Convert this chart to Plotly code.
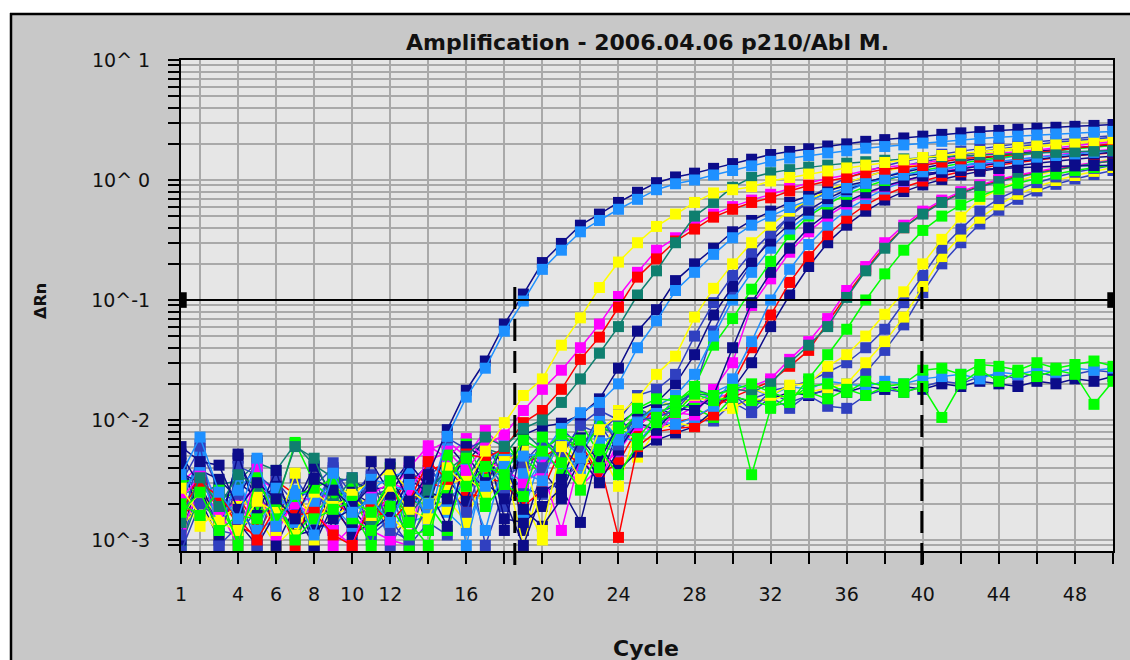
import plotly.graph_objects as go

# ---------------------------------------------------------------
# Real-time PCR amplification plot: ΔRn per cycle for every well
# ---------------------------------------------------------------
cycles = list(range(1, 51))

NAVY = "#0c0c8a"
ROYAL = "#3040c0"
DODGER = "#1e90ff"
YELLOW = "#ffff00"
TEAL = "#0f7f6f"
RED = "#ff0000"
GREEN = "#00ff00"
MAGENTA = "#ff00ff"

# flat (non-amplified) wells
flat_green_a = [0.0020, 0.0016, 0.0026, 0.0009, 0.0033, 0.0015, 0.0023, 0.0027, 0.0032, 0.0015,
                0.0012, 0.0019, 0.0011, 0.0012, 0.0034, 0.0048, 0.0019, 0.0029, 0.0023, 0.0072,
                0.0044, 0.0026, 0.0057, 0.0035, 0.0062, 0.0095, 0.0115, 0.0165, 0.0145, 0.0155,
                0.0035, 0.0125, 0.016, 0.017, 0.015, 0.018, 0.016, 0.019, 0.017, 0.019,
                0.0105, 0.02, 0.026, 0.021, 0.025, 0.023, 0.026, 0.024, 0.0135, 0.021]
flat_green_b = [0.0017, 0.0025, 0.0012, 0.0016, 0.0015, 0.0021, 0.0010, 0.0015, 0.0018, 0.0021,
                0.0017, 0.0031, 0.0014, 0.0009, 0.0051, 0.0028, 0.0041, 0.0035, 0.0068, 0.0055,
                0.0076, 0.0068, 0.0040, 0.0087, 0.0125, 0.015, 0.0145, 0.0175, 0.016, 0.018,
                0.02, 0.017, 0.015, 0.019, 0.02, 0.017, 0.021, 0.019, 0.02, 0.026,
                0.027, 0.024, 0.029, 0.028, 0.026, 0.03, 0.027, 0.029, 0.031, 0.028]
flat_royal = [0.0030, 0.0058, 0.0026, 0.0020, 0.0028, 0.0012, 0.0033, 0.0019, 0.0038, 0.0024,
              0.0035, 0.0017, 0.0030, 0.0042, 0.0025, 0.0065, 0.0052, 0.0030, 0.0058, 0.0034,
              0.0085, 0.0060, 0.0092, 0.0055, 0.0105, 0.0115, 0.013, 0.018, 0.016, 0.013,
              0.015, 0.017, 0.014, 0.016, 0.013, 0.0125, 0.016, 0.018, 0.017, 0.019,
              0.021, 0.02, 0.023, 0.024, 0.022, 0.025, 0.023, 0.024, 0.026, 0.025]
flat_navy = [0.0041, 0.0022, 0.0010, 0.0030, 0.0023, 0.0014, 0.0020, 0.0033, 0.0012, 0.0031,
             0.0026, 0.0028, 0.0045, 0.0018, 0.0063, 0.0041, 0.0026, 0.0072, 0.0012, 0.0038,
             0.0024, 0.0062, 0.0031, 0.0082, 0.0105, 0.0125, 0.011, 0.015, 0.013, 0.016,
             0.014, 0.015, 0.017, 0.016, 0.018, 0.017, 0.019, 0.018, 0.019, 0.018,
             0.02, 0.019, 0.021, 0.02, 0.019, 0.021, 0.02, 0.022, 0.021, 0.023]
flat_dodger = [0.0026, 0.0033, 0.0018, 0.0012, 0.0021, 0.0024, 0.0017, 0.0026, 0.0027, 0.0020,
               0.0021, 0.0010, 0.0024, 0.0028, 0.0017, 0.0012, 0.0036, 0.0040, 0.0026, 0.0048,
               0.0060, 0.0036, 0.0078, 0.0052, 0.0125, 0.0095, 0.016, 0.014, 0.017, 0.02,
               0.018, 0.016, 0.019, 0.018, 0.021, 0.02, 0.019, 0.021, 0.02, 0.022,
               0.023, 0.024, 0.022, 0.025, 0.024, 0.026, 0.025, 0.027, 0.026, 0.027]

# late wells (Ct about 38-40)
late_yellow_a = [0.0022, 0.0013, 0.0018, 0.0015, 0.0013, 0.0026, 0.0016, 0.0014, 0.0022, 0.0026,
                 0.0029, 0.0016, 0.0011, 0.0017, 0.0022, 0.0014, 0.0040, 0.0044, 0.0009, 0.0034,
                 0.0070, 0.0042, 0.0058, 0.0028, 0.0090, 0.0145, 0.013, 0.0155, 0.014, 0.0175,
                 0.0185, 0.016, 0.0195, 0.02, 0.028, 0.035, 0.05, 0.076, 0.117, 0.2,
                 0.32, 0.49, 0.69, 0.84, 0.98, 1.1, 1.2, 1.3, 1.4, 1.5]
late_royal_a = [0.0019, 0.0052, 0.0009, 0.0013, 0.0022, 0.0018, 0.0021, 0.0028, 0.0040, 0.0017,
                0.0023, 0.0027, 0.0009, 0.0014, 0.0011, 0.0061, 0.0009, 0.0026, 0.0031, 0.0070,
                0.0052, 0.0090, 0.0077, 0.0110, 0.0065, 0.0095, 0.011, 0.0145, 0.0135, 0.0165,
                0.012, 0.0175, 0.019, 0.021, 0.025, 0.03, 0.04, 0.057, 0.095, 0.16,
                0.27, 0.39, 0.55, 0.7, 0.83, 0.95, 1.06, 1.16, 1.25, 1.33]
late_yellow_b = [0.0013, 0.0019, 0.0011, 0.0024, 0.0016, 0.0009, 0.0013, 0.0018, 0.0016, 0.0019,
                 0.0023, 0.0012, 0.0014, 0.0022, 0.0018, 0.0025, 0.0021, 0.0036, 0.0022, 0.0010,
                 0.0038, 0.0058, 0.0042, 0.0120, 0.0049, 0.0082, 0.0095, 0.0088, 0.0115, 0.0125,
                 0.015, 0.0145, 0.0165, 0.017, 0.0185, 0.02, 0.03, 0.045, 0.072, 0.13,
                 0.23, 0.34, 0.48, 0.62, 0.76, 0.88, 0.99, 1.09, 1.18, 1.27]
late_royal_b = [0.0009, 0.0030, 0.0012, 0.0011, 0.0018, 0.0020, 0.0012, 0.0017, 0.0031, 0.0019,
                0.0030, 0.0009, 0.0017, 0.0033, 0.0048, 0.0027, 0.0053, 0.0019, 0.0027, 0.0024,
                0.0031, 0.0044, 0.0060, 0.0055, 0.0125, 0.0105, 0.0082, 0.010, 0.0098, 0.0140,
                0.0115, 0.0155, 0.0125, 0.0165, 0.0175, 0.0185, 0.025, 0.038, 0.062, 0.115,
                0.2, 0.3, 0.43, 0.56, 0.69, 0.81, 0.92, 1.02, 1.11, 1.2]

# wells with Ct about 35-37
mid_teal = [0.0009, 0.0024, 0.0029, 0.0031, 0.0044, 0.0038, 0.0063, 0.0042, 0.0033, 0.0031,
            0.0025, 0.0023, 0.0022, 0.0025, 0.0040, 0.0032, 0.0058, 0.0051, 0.0080, 0.0057,
            0.0072, 0.0060, 0.0085, 0.0078, 0.0100, 0.0130, 0.014, 0.0165, 0.016, 0.0185,
            0.017, 0.02, 0.03, 0.042, 0.06, 0.105, 0.175, 0.27, 0.40, 0.52,
            0.65, 0.77, 0.88, 0.97, 1.06, 1.14, 1.22, 1.3, 1.38, 1.45]
mid_magenta = [0.0030, 0.0042, 0.0020, 0.0016, 0.0033, 0.0026, 0.0014, 0.0022, 0.0009, 0.0013,
               0.0012, 0.0010, 0.0009, 0.0055, 0.0067, 0.0049, 0.0082, 0.0057, 0.0036, 0.0043,
               0.0045, 0.0028, 0.0040, 0.0055, 0.0090, 0.0115, 0.0105, 0.013, 0.015, 0.017,
               0.019, 0.022, 0.032, 0.045, 0.07, 0.12, 0.19, 0.3, 0.42, 0.55,
               0.68, 0.8, 0.91, 1.01, 1.1, 1.18, 1.26, 1.33, 1.4, 1.47]
mid_red = [0.0015, 0.0040, 0.0016, 0.0023, 0.0013, 0.0031, 0.0024, 0.0015, 0.0021, 0.0016,
           0.0018, 0.0022, 0.0017, 0.0038, 0.0043, 0.0024, 0.0023, 0.0050, 0.0045, 0.0049,
           0.0060, 0.0064, 0.0035, 0.0044, 0.0085, 0.0130, 0.0095, 0.0105, 0.0128, 0.0155,
           0.018, 0.021, 0.028, 0.038, 0.065, 0.11, 0.18, 0.28, 0.40, 0.53,
           0.66, 0.78, 0.89, 0.99, 1.08, 1.16, 1.24, 1.31, 1.38, 1.45]
mid_green = [0.0024, 0.0027, 0.0022, 0.0025, 0.0017, 0.0019, 0.0065, 0.0030, 0.0021, 0.0028,
             0.0010, 0.0025, 0.0021, 0.0020, 0.0012, 0.0042, 0.0023, 0.0055, 0.0048, 0.0035,
             0.0080, 0.0052, 0.0090, 0.0074, 0.0115, 0.009, 0.0135, 0.0125, 0.0105, 0.0155,
             0.0145, 0.013, 0.014, 0.022, 0.035, 0.057, 0.1, 0.165, 0.26, 0.38,
             0.5, 0.62, 0.73, 0.84, 0.94, 1.03, 1.12, 1.2, 1.27, 1.34]

# wells with Ct about 28-33
g3_yellow = [0.0016, 0.0025, 0.0015, 0.0019, 0.0024, 0.0012, 0.0036, 0.0010, 0.0028, 0.0024,
             0.0031, 0.0038, 0.0026, 0.0020, 0.0029, 0.0033, 0.0025, 0.0045, 0.0055, 0.0012,
             0.0060, 0.0032, 0.0083, 0.011, 0.015, 0.024, 0.034, 0.072, 0.125, 0.20,
             0.30, 0.42, 0.55, 0.68, 0.82, 0.95, 1.07, 1.18, 1.28, 1.38,
             1.47, 1.56, 1.65, 1.73, 1.81, 1.88, 1.95, 2.02, 2.08, 2.14]
g3_royal_a = [0.0011, 0.0062, 0.0009, 0.0041, 0.0035, 0.0026, 0.0018, 0.0014, 0.0044, 0.0017,
              0.0034, 0.0012, 0.0010, 0.0019, 0.0071, 0.0057, 0.0068, 0.0032, 0.0044, 0.0065,
              0.0050, 0.0092, 0.012, 0.010, 0.016, 0.018, 0.024, 0.05, 0.095, 0.16,
              0.25, 0.36, 0.50, 0.66, 0.80, 0.94, 1.07, 1.19, 1.31, 1.42,
              1.52, 1.62, 1.72, 1.81, 1.9, 1.98, 2.06, 2.13, 2.2, 2.27]
g3_navy_a = [0.0036, 0.0030, 0.0013, 0.0048, 0.0021, 0.0028, 0.0017, 0.0009, 0.0029, 0.0014,
             0.0045, 0.0024, 0.0044, 0.0027, 0.0013, 0.0052, 0.0030, 0.0022, 0.0009, 0.0025,
             0.0032, 0.0071, 0.0045, 0.0093, 0.012, 0.014, 0.02, 0.035, 0.075, 0.13,
             0.21, 0.31, 0.43, 0.56, 0.70, 0.83, 0.95, 1.06, 1.16, 1.26,
             1.35, 1.44, 1.52, 1.6, 1.67, 1.74, 1.8, 1.86, 1.92, 1.98]
g3_dodger_a = [0.0021, 0.0049, 0.0017, 0.0026, 0.0040, 0.0018, 0.0026, 0.0023, 0.0019, 0.0013,
               0.0026, 0.0034, 0.0037, 0.0013, 0.0060, 0.0009, 0.0042, 0.0062, 0.0036, 0.0031,
               0.0075, 0.0048, 0.011, 0.0068, 0.0095, 0.013, 0.016, 0.024, 0.05, 0.1,
               0.17, 0.27, 0.39, 0.52, 0.66, 0.80, 0.94, 1.07, 1.19, 1.31,
               1.42, 1.53, 1.63, 1.73, 1.82, 1.91, 2.0, 2.08, 2.16, 2.24]
g3_green = [0.0030, 0.0033, 0.0020, 0.0010, 0.0027, 0.0021, 0.0011, 0.0017, 0.0023, 0.0018,
            0.0009, 0.0040, 0.0009, 0.0022, 0.0025, 0.0063, 0.0032, 0.0068, 0.0040, 0.0060,
            0.0035, 0.0095, 0.0052, 0.0085, 0.0070, 0.011, 0.014, 0.019, 0.042, 0.07,
            0.123, 0.21, 0.35, 0.50, 0.63, 0.76, 0.88, 0.99, 1.1, 1.2,
            1.29, 1.38, 1.46, 1.54, 1.62, 1.69, 1.76, 1.82, 1.88, 1.94]
g3_royal_b = [0.0008, 0.0020, 0.0015, 0.0024, 0.0009, 0.0031, 0.0020, 0.0013, 0.0030, 0.0033,
              0.0011, 0.0015, 0.0009, 0.0038, 0.0028, 0.0017, 0.0050, 0.0026, 0.0058, 0.0040,
              0.0068, 0.0055, 0.0110, 0.0062, 0.010, 0.0105, 0.012, 0.018, 0.055, 0.115,
              0.2, 0.33, 0.5, 0.7, 0.88, 1.04, 1.18, 1.31, 1.43, 1.54,
              1.64, 1.74, 1.83, 1.92, 2.0, 2.08, 2.15, 2.22, 2.28, 2.34]
g3_navy_b = [0.0044, 0.0016, 0.0026, 0.0014, 0.0009, 0.0017, 0.0024, 0.0009, 0.0020, 0.0011,
             0.0014, 0.0033, 0.0018, 0.0030, 0.0032, 0.0021, 0.0058, 0.0044, 0.0018, 0.0013,
             0.0022, 0.0048, 0.0030, 0.0056, 0.0095, 0.0082, 0.0125, 0.012, 0.016, 0.04,
             0.095, 0.17, 0.27, 0.40, 0.53, 0.66, 0.78, 0.89, 0.99, 1.08,
             1.16, 1.24, 1.31, 1.38, 1.44, 1.5, 1.55, 1.6, 1.65, 1.7]
g3_magenta = [0.0012, 0.0026, 0.0017, 0.0021, 0.0027, 0.0011, 0.0023, 0.0021, 0.0025, 0.0015,
              0.0013, 0.0025, 0.0040, 0.0061, 0.0048, 0.0070, 0.0046, 0.0039, 0.0030, 0.0038,
              0.0012, 0.0050, 0.0030, 0.0068, 0.0092, 0.0078, 0.0115, 0.011, 0.018, 0.03,
              0.09, 0.15, 0.25, 0.37, 0.50, 0.63, 0.76, 0.88, 0.98, 1.08,
              1.17, 1.26, 1.34, 1.42, 1.49, 1.56, 1.62, 1.68, 1.74, 1.8]
g3_dodger_b = [0.0029, 0.0020, 0.0023, 0.0017, 0.0012, 0.0015, 0.0019, 0.0014, 0.0012, 0.0022,
               0.0019, 0.0024, 0.0014, 0.0016, 0.0021, 0.0031, 0.0012, 0.0047, 0.0017, 0.0054,
               0.0038, 0.0042, 0.0065, 0.0076, 0.0064, 0.0098, 0.0092, 0.0105, 0.013, 0.022,
               0.045, 0.1, 0.18, 0.29, 0.42, 0.56, 0.7, 0.84, 0.97, 1.09,
               1.2, 1.31, 1.41, 1.5, 1.59, 1.67, 1.75, 1.82, 1.89, 1.96]
g3_navy_c = [0.0010, 0.0038, 0.0032, 0.0022, 0.0046, 0.0009, 0.0019, 0.0041, 0.0024, 0.0025,
             0.0020, 0.0019, 0.0038, 0.0012, 0.0036, 0.0044, 0.0068, 0.0015, 0.0014, 0.0019,
             0.0027, 0.0014, 0.0060, 0.0038, 0.0054, 0.0068, 0.0078, 0.0088, 0.012, 0.018,
             0.03, 0.06, 0.11, 0.19, 0.3, 0.42, 0.55, 0.68, 0.8, 0.91,
             1.01, 1.1, 1.18, 1.25, 1.32, 1.38, 1.44, 1.49, 1.54, 1.58]
g3_red = [0.0016, 0.0021, 0.0024, 0.0013, 0.0011, 0.0022, 0.0009, 0.0026, 0.0018, 0.0012,
          0.0015, 0.0018, 0.0035, 0.0030, 0.0027, 0.0018, 0.0033, 0.0030, 0.0019, 0.0026,
          0.0058, 0.0042, 0.0045, 0.00105, 0.0060, 0.0080, 0.0085, 0.0088, 0.011, 0.02,
          0.04, 0.075, 0.14, 0.23, 0.35, 0.48, 0.62, 0.75, 0.87, 0.98,
          1.08, 1.17, 1.25, 1.33, 1.4, 1.47, 1.53, 1.59, 1.64, 1.69]

# wells with Ct about 22-27
g2_magenta = [0.0022, 0.0034, 0.0018, 0.0009, 0.0040, 0.0013, 0.0020, 0.0016, 0.0012, 0.0009,
              0.0024, 0.0030, 0.0026, 0.0045, 0.0055, 0.0038, 0.0062, 0.0075, 0.012, 0.018,
              0.026, 0.040, 0.063, 0.107, 0.17, 0.26, 0.33, 0.42, 0.52, 0.60,
              0.68, 0.76, 0.86, 0.95, 1.03, 1.1, 1.2, 1.28, 1.33, 1.38,
              1.47, 1.56, 1.62, 1.66, 1.72, 1.78, 1.84, 1.93, 2.01, 2.08]
g2_red = [0.0018, 0.0030, 0.0023, 0.0015, 0.0010, 0.0019, 0.0016, 0.0017, 0.0011, 0.0009,
          0.0020, 0.0014, 0.0021, 0.0045, 0.0032, 0.0052, 0.0048, 0.0058, 0.0095, 0.012,
          0.018, 0.032, 0.049, 0.087, 0.155, 0.22, 0.31, 0.39, 0.49, 0.57,
          0.65, 0.71, 0.81, 0.90, 0.98, 1.05, 1.15, 1.23, 1.27, 1.32,
          1.41, 1.50, 1.55, 1.58, 1.64, 1.70, 1.75, 1.85, 1.93, 2.0]
g2_teal = [0.0014, 0.0033, 0.0019, 0.0035, 0.0028, 0.0021, 0.0060, 0.0048, 0.0020, 0.0033,
           0.0013, 0.0031, 0.0016, 0.0026, 0.0038, 0.0050, 0.0072, 0.0060, 0.0085, 0.010,
           0.014, 0.022, 0.036, 0.060, 0.11, 0.175, 0.30, 0.50, 0.65, 0.87,
           1.05, 1.15, 1.22, 1.28, 1.33, 1.38, 1.42, 1.46, 1.5, 1.53,
           1.56, 1.59, 1.62, 1.64, 1.66, 1.68, 1.7, 1.72, 1.74, 1.76]
g2_yellow = [0.0027, 0.0016, 0.0014, 0.0012, 0.0021, 0.0017, 0.0011, 0.0025, 0.0019, 0.0023,
             0.0016, 0.0028, 0.0018, 0.0015, 0.0040, 0.0028, 0.0055, 0.0095, 0.016, 0.022,
             0.042, 0.071, 0.127, 0.207, 0.30, 0.41, 0.52, 0.65, 0.78, 0.83,
             0.88, 0.98, 1.05, 1.12, 1.19, 1.26, 1.33, 1.4, 1.47, 1.54,
             1.6, 1.67, 1.73, 1.8, 1.87, 1.94, 2.0, 2.07, 2.13, 2.2]
g2_navy = [0.0052, 0.0028, 0.0011, 0.0052, 0.0016, 0.0038, 0.0011, 0.0012, 0.0015, 0.0018,
           0.0012, 0.0016, 0.0032, 0.0025, 0.0022, 0.0060, 0.0048, 0.0012, 0.0075, 0.0088,
           0.0094, 0.011, 0.015, 0.027, 0.055, 0.083, 0.145, 0.20, 0.27, 0.37,
           0.46, 0.55, 0.65, 0.74, 0.82, 0.90, 0.97, 1.03, 1.08, 1.13,
           1.17, 1.2, 1.23, 1.25, 1.27, 1.29, 1.3, 1.31, 1.32, 1.33]
g2_dodger = [0.0024, 0.0040, 0.0012, 0.0034, 0.0012, 0.0027, 0.0014, 0.0020, 0.0031, 0.0021,
             0.0032, 0.0029, 0.0025, 0.0016, 0.0034, 0.0039, 0.0028, 0.0041, 0.0050, 0.0052,
             0.0085, 0.0115, 0.014, 0.020, 0.040, 0.067, 0.12, 0.17, 0.24, 0.33,
             0.42, 0.50, 0.59, 0.68, 0.77, 0.86, 0.94, 1.02, 1.1, 1.17,
             1.24, 1.31, 1.37, 1.43, 1.49, 1.55, 1.6, 1.65, 1.7, 1.75]

# earliest pair (Ct about 18.5)
g1_navy = [0.0060, 0.0045, 0.0042, 0.0018, 0.0030, 0.0022, 0.0015, 0.0032, 0.0026, 0.0019,
           0.0028, 0.0043, 0.0021, 0.0035, 0.0083, 0.0177, 0.031, 0.063, 0.112, 0.205,
           0.296, 0.42, 0.52, 0.65, 0.79, 0.95, 1.06, 1.14, 1.25, 1.37,
           1.49, 1.63, 1.73, 1.82, 1.92, 2.0, 2.1, 2.17, 2.24, 2.32,
           2.4, 2.47, 2.53, 2.59, 2.65, 2.7, 2.75, 2.8, 2.85, 2.9]
g1_dodger = [0.0035, 0.0072, 0.0025, 0.0015, 0.0048, 0.0013, 0.0024, 0.0011, 0.0036, 0.0017,
             0.0022, 0.0014, 0.0029, 0.0020, 0.0073, 0.0155, 0.027, 0.055, 0.098, 0.18,
             0.26, 0.37, 0.46, 0.57, 0.69, 0.83, 0.93, 1.0, 1.1, 1.2,
             1.31, 1.43, 1.52, 1.6, 1.68, 1.75, 1.84, 1.9, 1.96, 2.03,
             2.1, 2.16, 2.22, 2.27, 2.32, 2.37, 2.42, 2.46, 2.5, 2.54]

# drawing order: first listed ends up underneath
wells = [
    (flat_royal, ROYAL), (flat_navy, NAVY), (flat_dodger, DODGER),
    (late_royal_b, ROYAL), (late_yellow_b, YELLOW), (late_royal_a, ROYAL), (late_yellow_a, YELLOW),
    (mid_red, RED), (mid_magenta, MAGENTA), (mid_teal, TEAL), (mid_green, GREEN),
    (g3_navy_c, NAVY), (g3_red, RED), (g3_dodger_b, DODGER), (g3_magenta, MAGENTA),
    (g3_navy_b, NAVY), (g3_royal_b, ROYAL), (g3_green, GREEN), (g3_dodger_a, DODGER),
    (g3_navy_a, NAVY), (g3_royal_a, ROYAL), (g3_yellow, YELLOW),
    (g2_navy, NAVY), (g2_dodger, DODGER), (g2_magenta, MAGENTA), (g2_red, RED),
    (g2_teal, TEAL), (g2_yellow, YELLOW),
    (flat_green_b, GREEN), (flat_green_a, GREEN),
    (g1_navy, NAVY), (g1_dodger, DODGER),
]

# axis ticks
x_tickvals = [1] + list(range(2, 51, 2))
x_labels = {1: "1", 4: "4", 6: "6", 8: "8", 10: "10", 12: "12", 16: "16", 20: "20",
            24: "24", 28: "28", 32: "32", 36: "36", 40: "40", 44: "44", 48: "48"}
x_ticktext = [x_labels.get(v, "") for v in x_tickvals]
y_tickvals = [0.001, 0.01, 0.1, 1, 10]
y_ticktext = ["10^-3", "10^-2", "10^-1", "10^ 0", "10^ 1"]
y_minor = [m * d for d in (0.0001, 0.001, 0.01, 0.1, 1) for m in range(2, 10)]
threshold = 0.1
ct_markers = [18.55, 39.95]

fig = go.Figure()
for vals, col in wells:
    fig.add_trace(go.Scatter(
        x=cycles, y=vals, mode="lines+markers",
        line=dict(color=col, width=1.5),
        marker=dict(symbol="square", size=11, color=col, line=dict(width=0)),
        showlegend=False, hoverinfo="x+y",
    ))

W, H = 1130, 660
L, R, T, B = 181, 17, 60, 109
PW, PH = W - L - R, H - T - B


def px_x(p):
    return (p - L) / PW


def px_y(p):
    return (H - B - p) / PH


GRID = "#a9a9a9"
tick_font = dict(family="DejaVu Sans", size=19, color="#111111")

fig.update_xaxes(
    range=[1, 50], tickmode="array", tickvals=x_tickvals, ticktext=x_ticktext,
    ticks="outside", ticklen=11, tickwidth=2, tickcolor="black",
    showgrid=True, gridcolor=GRID, gridwidth=2, zeroline=False,
    showline=True, linecolor="black", linewidth=2, mirror=True,
    tickfont=tick_font, ticklabelstandoff=14,
)
fig.update_yaxes(
    type="log", range=[-3.092, 1.0], tickmode="array",
    tickvals=y_tickvals, ticktext=y_ticktext,
    ticks="outside", ticklen=11, tickwidth=2, tickcolor="black",
    showgrid=True, gridcolor=GRID, gridwidth=2, zeroline=False,
    showline=True, linecolor="black", linewidth=2, mirror=True,
    tickfont=tick_font, ticklabelstandoff=14,
    minor=dict(tickmode="array", tickvals=y_minor, ticks="outside", ticklen=11,
               tickwidth=1.5, tickcolor="black", showgrid=True,
               gridcolor=GRID, gridwidth=2),
)

shapes = [
    # white surround and black frame of the window
    dict(type="rect", xref="paper", yref="paper", x0=-0.3, x1=1.1,
         y0=px_y(13), y1=1.3, fillcolor="white", line_width=0, layer="above"),
    dict(type="rect", xref="paper", yref="paper", x0=-0.3, x1=px_x(10),
         y0=-0.4, y1=1.3, fillcolor="white", line_width=0, layer="above"),
    dict(type="line", xref="paper", yref="paper", x0=px_x(10), x1=1.1,
         y0=px_y(14), y1=px_y(14), line=dict(color="black", width=2.5), layer="above"),
    dict(type="line", xref="paper", yref="paper", x0=px_x(11), x1=px_x(11),
         y0=-0.4, y1=px_y(13), line=dict(color="black", width=2.5), layer="above"),
    # threshold line and its end handles
    dict(type="line", xref="x", yref="y", x0=1, x1=50, y0=threshold, y1=threshold,
         line=dict(color="black", width=2), layer="above"),
    dict(type="rect", xref="x", yref="y", x0=1, x1=1.3, y0=threshold * 0.86,
         y1=threshold * 1.16, fillcolor="black", line_width=0, layer="above"),
    dict(type="rect", xref="x", yref="y", x0=49.7, x1=50, y0=threshold * 0.86,
         y1=threshold * 1.16, fillcolor="black", line_width=0, layer="above"),
]
for c in ct_markers:
    shapes.append(dict(type="line", xref="x", yref="paper", x0=c, x1=c,
                       y0=px_y(565), y1=px_y(283),
                       line=dict(color="black", width=3, dash="22px,10px"),
                       layer="above"))

annotations = [
    dict(text="Amplification - 2006.04.06 p210/Abl M.", xref="paper", yref="paper",
         x=0.5, y=px_y(42), xanchor="center", yanchor="middle", showarrow=False,
         font=dict(family="DejaVu Sans", size=22, color="#111111", weight="bold")),
    dict(text="ΔRn", xref="paper", yref="paper", x=px_x(40), y=px_y(301),
         xanchor="center", yanchor="middle", textangle=-90, showarrow=False,
         font=dict(family="DejaVu Sans", size=16, color="#111111", weight="bold")),
    dict(text="Cycle", xref="paper", yref="paper", x=px_x(646), y=px_y(648),
         xanchor="center", yanchor="middle", showarrow=False,
         font=dict(family="DejaVu Sans", size=22, color="#111111", weight="bold")),
]

fig.update_layout(
    width=W, height=H, autosize=False,
    margin=dict(l=L, r=R, t=T, b=B, pad=0),
    paper_bgcolor="#c8c8c8", plot_bgcolor="#e6e6e6",
    shapes=shapes, annotations=annotations,
    showlegend=False, hovermode="closest",
)

fig.write_html("out.html")
